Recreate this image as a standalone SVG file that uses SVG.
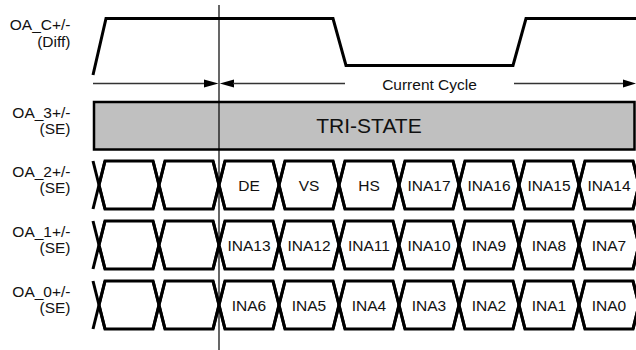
<svg xmlns="http://www.w3.org/2000/svg" width="636" height="350" viewBox="0 0 636 350">
<defs>
<style>
.lbl{font-family:"Liberation Sans",Arial,sans-serif;font-size:15.5px;fill:#111;text-anchor:end}
.dt{font-family:"Liberation Sans",Arial,sans-serif;font-size:15.5px;fill:#111;text-anchor:middle}
.ts{font-family:"Liberation Sans",Arial,sans-serif;font-size:21px;fill:#111;text-anchor:middle}
.wave{fill:none;stroke:#000;stroke-width:3;stroke-linejoin:miter}
.seg{fill:#fff;stroke:#000;stroke-width:3}
.arm{fill:none;stroke:#000;stroke-width:3}
.dim{fill:none;stroke:#333;stroke-width:1.4}
.head{fill:#000}
</style>
<path id="xs" d="M93,0 L105,48 M105,0 L93,48 M153,0 L165,48 M165,0 L153,48 M213,0 L225,48 M225,0 L213,48 M273,0 L285,48 M285,0 L273,48 M333,0 L345,48 M345,0 L333,48 M393,0 L405,48 M405,0 L393,48 M453,0 L465,48 M465,0 L453,48 M513,0 L525,48 M525,0 L513,48 M573,0 L585,48 M585,0 L573,48 M633,0 L645,48 M645,0 L633,48"/>
</defs>
<rect width="636" height="350" fill="#fff"/>

<g id="labels">
<g id="lbl-oac"><text class="lbl" x="70.5" y="30">OA_C+/-</text><text class="lbl" x="70.5" y="47">(Diff)</text></g>
<g id="lbl-oa3"><text class="lbl" x="70.5" y="117.5">OA_3+/-</text><text class="lbl" x="70.5" y="133.5">(SE)</text></g>
<g id="lbl-oa2"><text class="lbl" x="70.5" y="177">OA_2+/-</text><text class="lbl" x="70.5" y="193">(SE)</text></g>
<g id="lbl-oa1"><text class="lbl" x="70.5" y="237">OA_1+/-</text><text class="lbl" x="70.5" y="253">(SE)</text></g>
<g id="lbl-oa0"><text class="lbl" x="70.5" y="297">OA_0+/-</text><text class="lbl" x="70.5" y="313">(SE)</text></g>
</g>

<g id="clock">
<polyline class="wave" points="93,75 106,18.5 333,18.5 346,65.5 513,65.5 526,18.5 640,18.5"/>
</g>

<g id="tristate">
<rect x="94" y="102" width="540.5" height="47.5" fill="#c0c0c0" stroke="#000" stroke-width="2.5"/>
<text class="ts" x="369" y="132.5">TRI-STATE</text>
</g>

<g id="oa2">
<g id="oa2-s0"><polygon class="seg" points="99,185 105,161 153,161 159,185 153,209 105,209"/></g>
<g id="oa2-s1"><polygon class="seg" points="159,185 165,161 213,161 219,185 213,209 165,209"/></g>
<g id="oa2-s2"><polygon class="seg" points="219,185 225,161 273,161 279,185 273,209 225,209"/><text class="dt" x="249" y="191">DE</text></g>
<g id="oa2-s3"><polygon class="seg" points="279,185 285,161 333,161 339,185 333,209 285,209"/><text class="dt" x="309" y="191">VS</text></g>
<g id="oa2-s4"><polygon class="seg" points="339,185 345,161 393,161 399,185 393,209 345,209"/><text class="dt" x="369" y="191">HS</text></g>
<g id="oa2-s5"><polygon class="seg" points="399,185 405,161 453,161 459,185 453,209 405,209"/><text class="dt" x="429" y="191">INA17</text></g>
<g id="oa2-s6"><polygon class="seg" points="459,185 465,161 513,161 519,185 513,209 465,209"/><text class="dt" x="489" y="191">INA16</text></g>
<g id="oa2-s7"><polygon class="seg" points="519,185 525,161 573,161 579,185 573,209 525,209"/><text class="dt" x="549" y="191">INA15</text></g>
<g id="oa2-s8"><polygon class="seg" points="579,185 585,161 633,161 639,185 633,209 585,209"/><text class="dt" x="609" y="191">INA14</text></g>
<use href="#xs" class="arm" transform="translate(0,161)"/>
</g>

<g id="oa1">
<g id="oa1-s0"><polygon class="seg" points="99,245 105,221 153,221 159,245 153,269 105,269"/></g>
<g id="oa1-s1"><polygon class="seg" points="159,245 165,221 213,221 219,245 213,269 165,269"/></g>
<g id="oa1-s2"><polygon class="seg" points="219,245 225,221 273,221 279,245 273,269 225,269"/><text class="dt" x="249" y="251">INA13</text></g>
<g id="oa1-s3"><polygon class="seg" points="279,245 285,221 333,221 339,245 333,269 285,269"/><text class="dt" x="309" y="251">INA12</text></g>
<g id="oa1-s4"><polygon class="seg" points="339,245 345,221 393,221 399,245 393,269 345,269"/><text class="dt" x="369" y="251">INA11</text></g>
<g id="oa1-s5"><polygon class="seg" points="399,245 405,221 453,221 459,245 453,269 405,269"/><text class="dt" x="429" y="251">INA10</text></g>
<g id="oa1-s6"><polygon class="seg" points="459,245 465,221 513,221 519,245 513,269 465,269"/><text class="dt" x="489" y="251">INA9</text></g>
<g id="oa1-s7"><polygon class="seg" points="519,245 525,221 573,221 579,245 573,269 525,269"/><text class="dt" x="549" y="251">INA8</text></g>
<g id="oa1-s8"><polygon class="seg" points="579,245 585,221 633,221 639,245 633,269 585,269"/><text class="dt" x="609" y="251">INA7</text></g>
<use href="#xs" class="arm" transform="translate(0,221)"/>
</g>

<g id="oa0">
<g id="oa0-s0"><polygon class="seg" points="99,305 105,281 153,281 159,305 153,329 105,329"/></g>
<g id="oa0-s1"><polygon class="seg" points="159,305 165,281 213,281 219,305 213,329 165,329"/></g>
<g id="oa0-s2"><polygon class="seg" points="219,305 225,281 273,281 279,305 273,329 225,329"/><text class="dt" x="249" y="311">INA6</text></g>
<g id="oa0-s3"><polygon class="seg" points="279,305 285,281 333,281 339,305 333,329 285,329"/><text class="dt" x="309" y="311">INA5</text></g>
<g id="oa0-s4"><polygon class="seg" points="339,305 345,281 393,281 399,305 393,329 345,329"/><text class="dt" x="369" y="311">INA4</text></g>
<g id="oa0-s5"><polygon class="seg" points="399,305 405,281 453,281 459,305 453,329 405,329"/><text class="dt" x="429" y="311">INA3</text></g>
<g id="oa0-s6"><polygon class="seg" points="459,305 465,281 513,281 519,305 513,329 465,329"/><text class="dt" x="489" y="311">INA2</text></g>
<g id="oa0-s7"><polygon class="seg" points="519,305 525,281 573,281 579,305 573,329 525,329"/><text class="dt" x="549" y="311">INA1</text></g>
<g id="oa0-s8"><polygon class="seg" points="579,305 585,281 633,281 639,305 633,329 585,329"/><text class="dt" x="609" y="311">INA0</text></g>
<use href="#xs" class="arm" transform="translate(0,281)"/>
</g>

<g id="connectors">
<line x1="219" y1="5" x2="219" y2="350" stroke="#000" stroke-width="1.2"/>
<line class="dim" x1="93" y1="83.5" x2="205" y2="83.5"/>
<polygon class="head" points="204,79.5 218.5,83.5 204,87.5"/>
<polygon class="head" points="234,79.5 219.8,83.5 234,87.5"/>
<line class="dim" x1="233" y1="83.5" x2="345" y2="83.5"/>
<line class="dim" x1="514" y1="83.5" x2="624" y2="83.5"/>
<polygon class="head" points="623,79.5 636,83.5 623,87.5"/>
<text class="dt" x="429.5" y="89.5">Current Cycle</text>
</g>
</svg>
